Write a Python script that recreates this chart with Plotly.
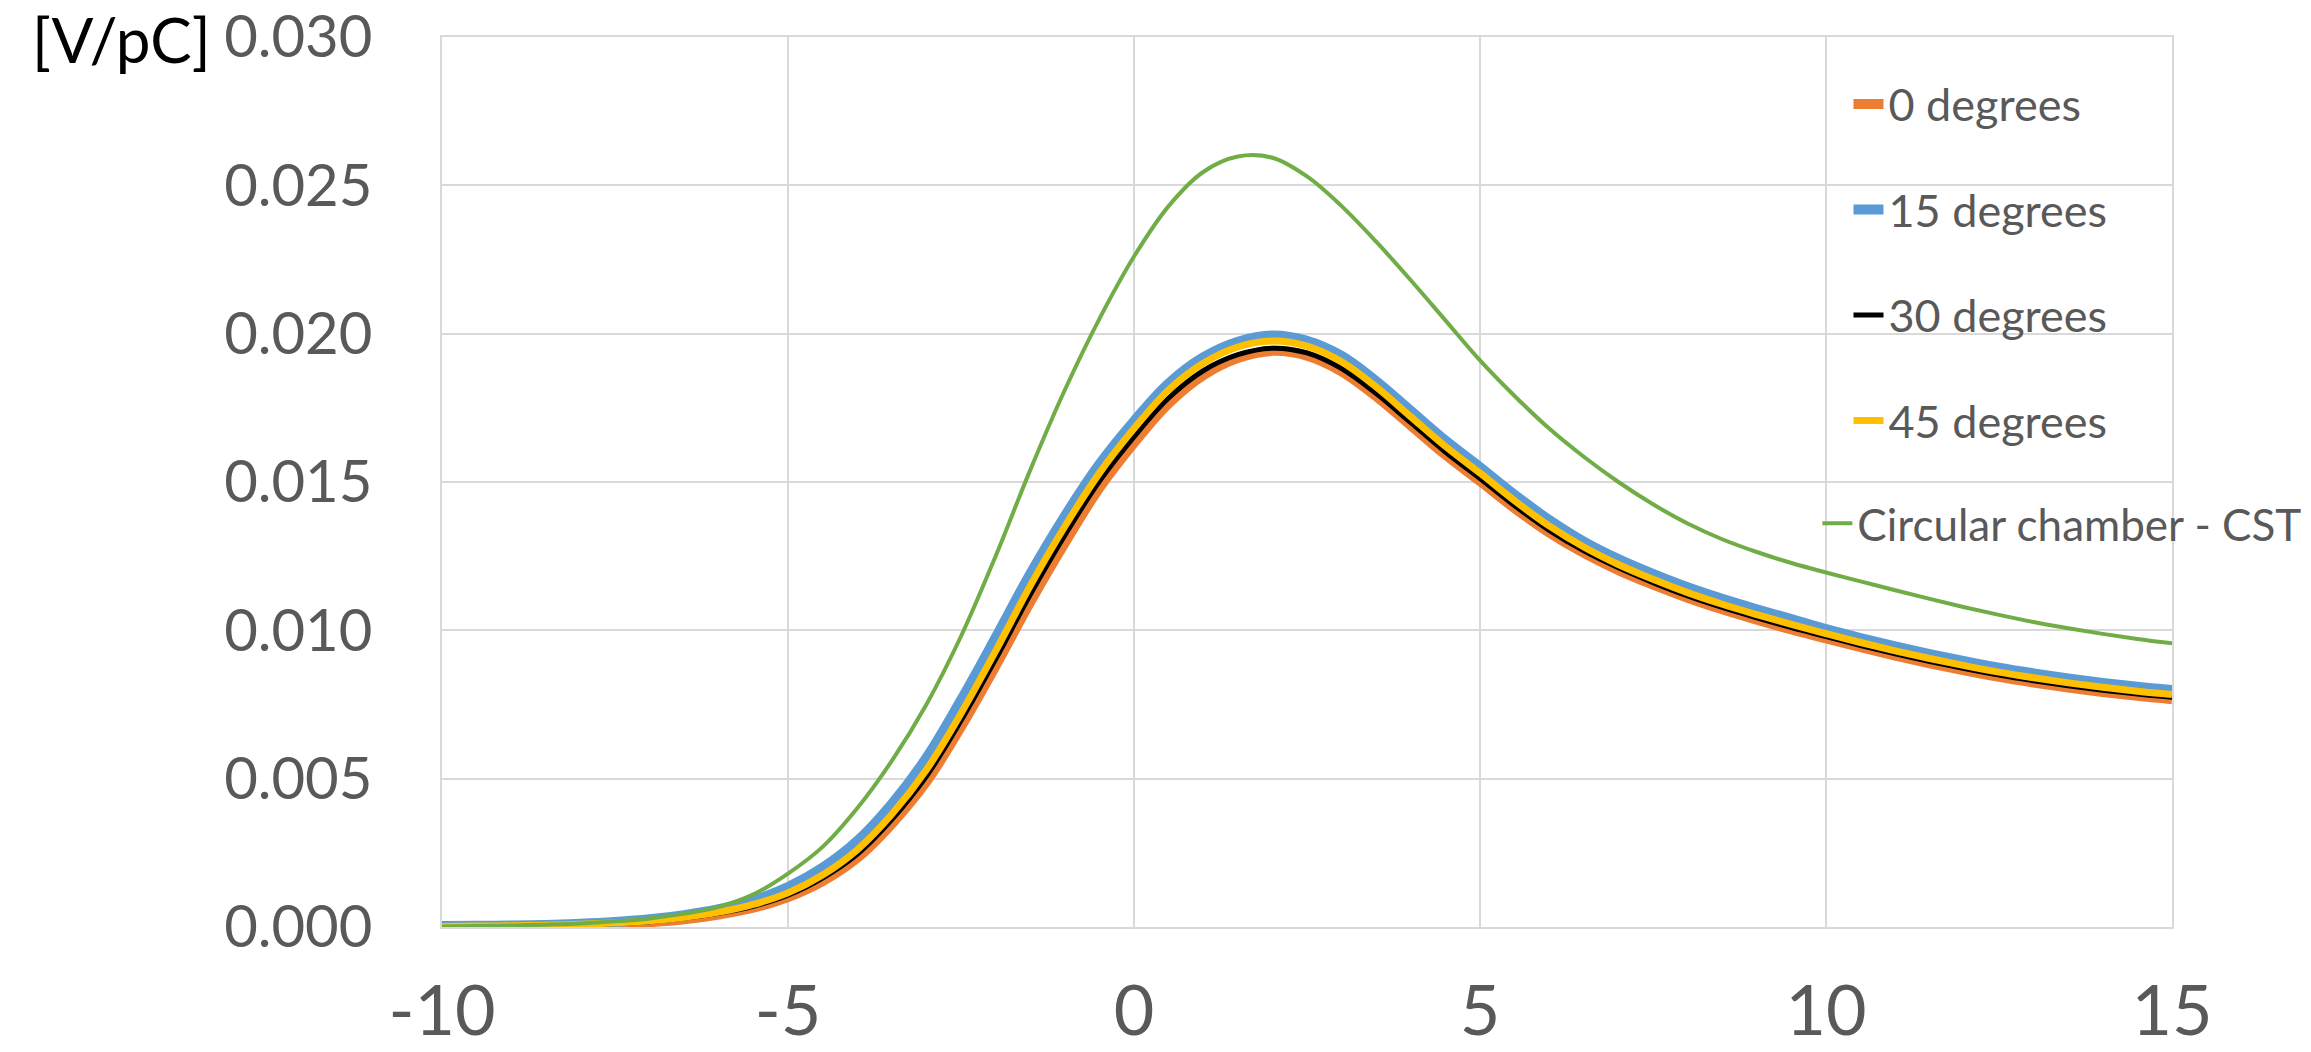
import plotly.graph_objects as go

x_vals = [-10, -9.5, -9, -8.5, -8, -7.5, -7, -6.5, -6, -5.5, -5, -4.5, -4, -3.5, -3, -2.5, -2, -1.5, -1, -0.5,
          0, 0.5, 1, 1.5, 2, 2.5, 3, 3.5, 4, 4.5, 5, 5.5, 6, 6.5, 7, 7.5, 8, 8.5, 9, 9.5,
          10, 10.5, 11, 11.5, 12, 12.5, 13, 13.5, 14, 14.5, 15]

deg0 = [0.00001, 0.00001, 0.00002, 0.00004, 0.00006, 0.00010, 0.00016, 0.00026, 0.00042, 0.00065,
        0.00101, 0.00155, 0.00233, 0.00348, 0.00490, 0.00675, 0.00880, 0.01095, 0.01295, 0.01480,
        0.01632, 0.01765, 0.01860, 0.01918, 0.01942, 0.01926, 0.01873, 0.01789, 0.01691, 0.01592,
        0.01503, 0.01412, 0.01330, 0.01261, 0.01203, 0.01154, 0.01110, 0.01071, 0.01036, 0.01003,
        0.00973, 0.00943, 0.00915, 0.00889, 0.00865, 0.00843, 0.00824, 0.00807, 0.00792, 0.00779, 0.00768]

deg15 = [0.00003, 0.00004, 0.00005, 0.00007, 0.00011, 0.00017, 0.00026, 0.00040, 0.00060, 0.00090,
         0.00135, 0.00200, 0.00290, 0.00415, 0.00570, 0.00765, 0.00975, 0.01190, 0.01385, 0.01560,
         0.01705, 0.01832, 0.01920, 0.01973, 0.01994, 0.01976, 0.01925, 0.01840, 0.01740, 0.01640,
         0.01550, 0.01457, 0.01372, 0.01299, 0.01240, 0.01190, 0.01145, 0.01106, 0.01071, 0.01038,
         0.01004, 0.00974, 0.00946, 0.00920, 0.00896, 0.00874, 0.00855, 0.00838, 0.00823, 0.00810, 0.00799]

deg30 = [0.00001, 0.00002, 0.00003, 0.00005, 0.00008, 0.00012, 0.00018, 0.00030, 0.00046, 0.00070,
         0.00107, 0.00165, 0.00245, 0.00362, 0.00508, 0.00695, 0.00902, 0.01120, 0.01320, 0.01502,
         0.01652, 0.01783, 0.01875, 0.01929, 0.01951, 0.01935, 0.01882, 0.01798, 0.01700, 0.01601,
         0.01512, 0.01420, 0.01337, 0.01268, 0.01211, 0.01161, 0.01116, 0.01077, 0.01042, 0.01009,
         0.00979, 0.00949, 0.00921, 0.00895, 0.00871, 0.00849, 0.00830, 0.00813, 0.00798, 0.00785, 0.00774]

deg45 = [0.00002, 0.00003, 0.00004, 0.00006, 0.00009, 0.00014, 0.00021, 0.00033, 0.00050, 0.00076,
         0.00115, 0.00175, 0.00260, 0.00380, 0.00530, 0.00720, 0.00930, 0.01150, 0.01350, 0.01530,
         0.01680, 0.01810, 0.01900, 0.01955, 0.01975, 0.01958, 0.01905, 0.01820, 0.01720, 0.01620,
         0.01530, 0.01437, 0.01352, 0.01281, 0.01222, 0.01172, 0.01127, 0.01088, 0.01053, 0.01020,
         0.00989, 0.00959, 0.00931, 0.00905, 0.00881, 0.00859, 0.00840, 0.00823, 0.00808, 0.00795, 0.00784]

circular_cst = [0.00002, 0.00003, 0.00005, 0.00008, 0.00012, 0.00019, 0.00029, 0.00045, 0.00068, 0.00110,
                0.00180, 0.00270, 0.00400, 0.00560, 0.00750, 0.00980, 0.01250, 0.01540, 0.01810, 0.02050,
                0.02260, 0.02430, 0.02545, 0.02597, 0.02593, 0.02530, 0.02430, 0.02310, 0.02180, 0.02045,
                0.01910, 0.01790, 0.01680, 0.01585, 0.01500, 0.01425, 0.01360, 0.01307, 0.01264, 0.01227,
                0.01195, 0.01165, 0.01135, 0.01106, 0.01078, 0.01052, 0.01028, 0.01007, 0.00988, 0.00971, 0.00956]

series_names = ["0 degrees", "15 degrees", "30 degrees", "45 degrees", "Circular chamber - CST"]
series_values = [deg0, deg15, deg30, deg45, circular_cst]
series_colors = ["#ED7D31", "#5B9BD5", "#000000", "#FFC000", "#70AD47"]
series_widths = [10, 10, 5, 7, 4]
series_legends = ["legend", "legend", "legend", "legend", "legend2"]

x_ticks = [-10, -5, 0, 5, 10, 15]
y_ticks = [0.000, 0.005, 0.010, 0.015, 0.020, 0.025, 0.030]

fig = go.Figure()
for i, (name, vals, col, w, lg) in enumerate(zip(series_names, series_values, series_colors,
                                                 series_widths, series_legends)):
    fig.add_trace(go.Scatter(
        x=x_vals, y=vals, mode="lines", name=name,
        line=dict(color=col, width=w, shape="spline", smoothing=1.0),
        legendgroup=f"g{i}", legend=lg,
    ))

FONT = "Lato, 'Open Sans', sans-serif"
GRID = "#d9d9d9"
TXT = "#595959"

fig.update_layout(
    width=2311, height=1052, autosize=False,
    margin=dict(l=442, r=139, t=37, b=125, autoexpand=False),
    paper_bgcolor="white", plot_bgcolor="white",
    font=dict(family=FONT, color=TXT),
    showlegend=True,
    legend=dict(
        x=0.813, y=0.965, xanchor="left", yanchor="top",
        bgcolor="rgba(0,0,0,0)", borderwidth=0,
        font=dict(family=FONT, size=45, color=TXT),
        tracegroupgap=44,
    ),
    legend2=dict(
        x=0.795, y=0.493, xanchor="left", yanchor="top",
        bgcolor="rgba(0,0,0,0)", borderwidth=0,
        font=dict(family=FONT, size=44, color=TXT),
    ),
    xaxis=dict(
        range=[-10, 15], tickvals=x_ticks, ticktext=[str(v) for v in x_ticks],
        showgrid=True, gridcolor=GRID, gridwidth=2,
        showline=True, linecolor=GRID, linewidth=2, mirror=True,
        zeroline=False, ticks="", automargin=False, ticklabeloverflow="allow",
        tickfont=dict(family=FONT, size=70, color=TXT),
        ticklabelstandoff=22,
    ),
    yaxis=dict(
        range=[0, 0.030], tickvals=y_ticks, ticktext=[f"{v:.3f}" for v in y_ticks],
        showgrid=True, gridcolor=GRID, gridwidth=2,
        showline=True, linecolor=GRID, linewidth=2, mirror=True,
        zeroline=False, ticks="", automargin=False, ticklabeloverflow="allow",
        tickfont=dict(family=FONT, size=58, color=TXT),
        ticklabelstandoff=56,
    ),
    annotations=[dict(
        text="[V/pC]", xref="paper", yref="paper",
        x=-0.2382, y=0.9978, xanchor="left", yanchor="middle",
        showarrow=False, font=dict(family=FONT, size=62, color="#000000"),
    )],
)

# remove the default 8px page margin so the figure fills the window exactly
fig.write_html("out.html", config={"displayModeBar": False},
               post_script="document.body.style.margin='0';")
